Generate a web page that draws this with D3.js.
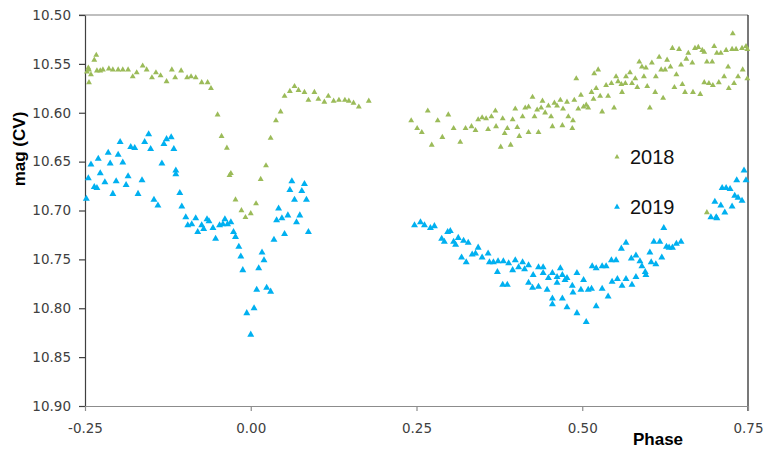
<!DOCTYPE html>
<html>
<head>
<meta charset="utf-8">
<script src="https://cdn.jsdelivr.net/npm/d3@7"></script>
<style>
  body { margin: 0; background: #fff; }
</style>
</head>
<body>
<div id="chart"></div>
<script>
// ---------------- DATA (phase, mag) ----------------
var data2018 = [
  [-0.247,10.558],[-0.245,10.554],[-0.244,10.556],[-0.244,10.569],[-0.241,10.561],[-0.236,10.546],
  [-0.233,10.541],[-0.232,10.557],[-0.227,10.557],[-0.223,10.556],[-0.214,10.555],[-0.208,10.556],
  [-0.200,10.556],[-0.193,10.556],[-0.185,10.556],[-0.178,10.563],[-0.172,10.559],[-0.163,10.552],
  [-0.157,10.556],[-0.149,10.564],[-0.143,10.559],[-0.136,10.562],[-0.127,10.568],[-0.119,10.556],
  [-0.114,10.564],[-0.105,10.557],[-0.096,10.564],[-0.090,10.563],[-0.083,10.564],[-0.074,10.569],
  [-0.065,10.569],[-0.060,10.575],[-0.050,10.602],[-0.044,10.624],[-0.036,10.636],[-0.032,10.664],
  [-0.030,10.662],[-0.023,10.689],[-0.014,10.700],[-0.008,10.707],[0.000,10.703],[0.008,10.693],
  [0.015,10.668],[0.023,10.654],[0.030,10.626],[0.038,10.608],[0.045,10.599],[0.051,10.583],
  [0.059,10.578],[0.066,10.573],[0.072,10.577],[0.081,10.579],[0.087,10.587],[0.096,10.579],
  [0.102,10.586],[0.111,10.589],[0.117,10.583],[0.125,10.588],[0.133,10.587],[0.142,10.587],
  [0.148,10.588],[0.155,10.590],[0.163,10.594],[0.178,10.588],
  [0.242,10.608],[0.251,10.616],[0.258,10.620],[0.267,10.598],[0.273,10.633],[0.282,10.608],
  [0.289,10.625],[0.298,10.602],[0.306,10.616],[0.316,10.630],[0.324,10.616],[0.333,10.614],
  [0.339,10.618],[0.343,10.607],[0.349,10.605],[0.355,10.606],[0.358,10.617],[0.363,10.604],
  [0.369,10.598],[0.370,10.614],[0.377,10.635],[0.380,10.606],[0.383,10.621],[0.387,10.616],
  [0.392,10.633],[0.395,10.607],[0.399,10.596],[0.402,10.615],[0.405,10.624],[0.410,10.604],
  [0.414,10.595],[0.419,10.594],[0.419,10.620],[0.425,10.584],[0.428,10.604],[0.432,10.597],
  [0.434,10.620],[0.438,10.595],[0.440,10.588],[0.444,10.600],[0.449,10.593],[0.453,10.604],
  [0.455,10.614],[0.458,10.590],[0.462,10.593],[0.467,10.587],[0.470,10.613],[0.471,10.596],
  [0.477,10.589],[0.479,10.604],[0.485,10.616],[0.486,10.608],[0.488,10.587],[0.491,10.565],
  [0.494,10.596],[0.498,10.582],[0.502,10.594],[0.506,10.592],[0.509,10.595],[0.514,10.579],
  [0.517,10.586],[0.518,10.560],[0.521,10.575],[0.524,10.556],[0.527,10.583],[0.530,10.599],
  [0.536,10.572],[0.539,10.583],[0.544,10.570],[0.548,10.595],[0.551,10.563],[0.554,10.568],
  [0.559,10.571],[0.560,10.579],[0.565,10.570],[0.566,10.563],[0.572,10.559],[0.575,10.570],
  [0.580,10.565],[0.583,10.574],[0.586,10.548],[0.590,10.553],[0.593,10.563],[0.596,10.554],
  [0.598,10.573],[0.602,10.595],[0.605,10.549],[0.610,10.579],[0.611,10.563],[0.616,10.543],
  [0.619,10.556],[0.622,10.585],[0.625,10.556],[0.628,10.546],[0.633,10.553],[0.636,10.534],
  [0.639,10.574],[0.642,10.561],[0.646,10.535],[0.649,10.551],[0.651,10.571],[0.655,10.579],
  [0.657,10.545],[0.660,10.539],[0.666,10.549],[0.667,10.579],[0.670,10.534],[0.675,10.533],
  [0.678,10.581],[0.681,10.536],[0.684,10.538],[0.684,10.569],[0.688,10.548],[0.691,10.570],
  [0.696,10.548],[0.697,10.572],[0.699,10.532],[0.703,10.539],[0.706,10.569],[0.709,10.539],
  [0.714,10.563],[0.717,10.536],[0.720,10.553],[0.721,10.575],[0.726,10.535],[0.727,10.519],
  [0.729,10.570],[0.732,10.535],[0.735,10.563],[0.741,10.534],[0.742,10.556],[0.747,10.532],
  [0.749,10.535],[0.749,10.565],[0.688,10.702]
];

var data2019 = [
  [-0.248,10.688],[-0.245,10.667],[-0.241,10.653],[-0.236,10.676],[-0.232,10.677],[-0.230,10.647],
  [-0.227,10.662],[-0.220,10.671],[-0.215,10.641],[-0.212,10.652],[-0.208,10.683],[-0.203,10.670],
  [-0.200,10.643],[-0.197,10.630],[-0.193,10.651],[-0.188,10.674],[-0.185,10.665],[-0.181,10.635],
  [-0.175,10.636],[-0.170,10.683],[-0.164,10.669],[-0.160,10.630],[-0.154,10.622],[-0.151,10.637],
  [-0.146,10.689],[-0.140,10.695],[-0.134,10.652],[-0.131,10.632],[-0.127,10.627],[-0.120,10.625],
  [-0.116,10.637],[-0.113,10.659],[-0.113,10.663],[-0.107,10.682],[-0.104,10.696],[-0.098,10.707],
  [-0.095,10.715],[-0.089,10.714],[-0.083,10.708],[-0.080,10.722],[-0.074,10.715],[-0.071,10.719],
  [-0.066,10.709],[-0.063,10.711],[-0.057,10.718],[-0.053,10.729],[-0.047,10.715],[-0.042,10.714],
  [-0.039,10.709],[-0.035,10.714],[-0.030,10.712],[-0.026,10.722],[-0.023,10.727],[-0.018,10.737],
  [-0.015,10.747],[-0.012,10.761],[-0.006,10.805],[0.000,10.827],[0.005,10.800],[0.009,10.781],
  [0.012,10.759],[0.017,10.743],[0.020,10.751],[0.024,10.779],[0.030,10.783],[0.035,10.730],
  [0.039,10.710],[0.042,10.698],[0.047,10.708],[0.051,10.724],[0.056,10.705],[0.059,10.679],
  [0.062,10.670],[0.066,10.689],[0.069,10.712],[0.074,10.705],[0.077,10.680],[0.081,10.673],
  [0.084,10.689],[0.087,10.722],
  [0.247,10.715],[0.256,10.712],[0.262,10.715],[0.271,10.718],[0.277,10.716],[0.288,10.729],
  [0.292,10.732],[0.297,10.722],[0.301,10.721],[0.306,10.732],[0.309,10.735],[0.313,10.728],
  [0.321,10.731],[0.328,10.733],[0.318,10.748],[0.325,10.753],[0.334,10.745],[0.339,10.744],
  [0.343,10.738],[0.349,10.748],[0.358,10.744],[0.360,10.753],[0.366,10.753],[0.372,10.763],
  [0.373,10.752],[0.381,10.752],[0.380,10.776],[0.387,10.776],[0.389,10.754],[0.395,10.761],
  [0.399,10.751],[0.404,10.758],[0.410,10.753],[0.413,10.760],[0.419,10.756],[0.419,10.774],
  [0.426,10.766],[0.425,10.779],[0.434,10.758],[0.434,10.778],[0.441,10.758],[0.441,10.764],
  [0.447,10.781],[0.449,10.769],[0.455,10.764],[0.455,10.790],[0.455,10.796],[0.462,10.768],
  [0.462,10.774],[0.467,10.759],[0.470,10.766],[0.470,10.790],[0.474,10.771],[0.477,10.799],
  [0.477,10.769],[0.485,10.777],[0.486,10.784],[0.492,10.764],[0.492,10.805],[0.498,10.781],
  [0.502,10.771],[0.506,10.814],[0.509,10.781],[0.514,10.780],[0.515,10.757],[0.521,10.759],
  [0.521,10.798],[0.530,10.757],[0.530,10.780],[0.536,10.757],[0.539,10.788],[0.544,10.751],
  [0.545,10.773],[0.551,10.751],[0.553,10.770],[0.559,10.739],[0.560,10.777],[0.566,10.733],
  [0.566,10.770],[0.574,10.749],[0.575,10.776],[0.581,10.746],[0.581,10.768],[0.587,10.752],
  [0.590,10.757],[0.595,10.763],[0.596,10.766],[0.602,10.743],[0.604,10.753],[0.608,10.732],
  [0.611,10.755],[0.617,10.732],[0.620,10.748],[0.623,10.718],[0.627,10.737],[0.631,10.738],
  [0.636,10.738],[0.642,10.734],[0.649,10.732],
  [0.694,10.707],[0.702,10.707],[0.703,10.708],[0.700,10.691],[0.709,10.695],[0.715,10.702],
  [0.711,10.677],[0.717,10.677],[0.723,10.678],[0.726,10.696],[0.730,10.685],[0.735,10.687],
  [0.741,10.690],[0.733,10.669],[0.744,10.659],[0.747,10.669]
];

var xTicks = [-0.25, 0, 0.25, 0.5, 0.75];
var yTicks = [10.50, 10.55, 10.60, 10.65, 10.70, 10.75, 10.80, 10.85, 10.90];
var seriesNames = ["2018", "2019"];
var seriesColors = ["#9BBB59", "#00B0F0"];

// ---------------- SVG ----------------
var width = 766, height = 450;
var plotLeft = 85, plotRight = 748, plotTop = 15, plotBottom = 406;

var svg = d3.select("#chart").append("svg")
    .attr("width", width).attr("height", height);

var x = d3.scaleLinear().domain([-0.25, 0.75]).range([plotLeft, plotRight]);
var y = d3.scaleLinear().domain([10.50, 10.90]).range([plotTop, plotBottom]);

// top frame line + right line
svg.append("line")
    .attr("x1", plotLeft - 6).attr("x2", plotRight)
    .attr("y1", y(10.50)).attr("y2", y(10.50))
    .attr("stroke", "#808080").attr("stroke-width", 1.2);
svg.append("line")
    .attr("x1", x(0.75)).attr("x2", x(0.75))
    .attr("y1", y(10.50)).attr("y2", plotBottom + 5)
    .attr("stroke", "#1e1e1e").attr("stroke-width", 1.2);

// axes
var fmt = function(d) { return d.toFixed(2); };

var yAxis = svg.append("g")
    .attr("transform", "translate(" + plotLeft + ",0)")
    .call(d3.axisLeft(y).tickValues(yTicks).tickFormat(fmt).tickSize(6).tickSizeOuter(0).tickPadding(8));
yAxis.select(".domain").attr("stroke", "#404040").attr("stroke-width", 1.2);
yAxis.selectAll(".tick line").attr("stroke", "#404040").attr("stroke-width", 1.2);
yAxis.selectAll("text")
    .attr("font-family", "DejaVu Sans").attr("font-size", "13.5px").attr("fill", "#404040");

var xAxis = svg.append("g")
    .attr("transform", "translate(0," + plotBottom + ")")
    .call(d3.axisBottom(x).tickValues(xTicks).tickFormat(fmt).tickSize(5).tickSizeOuter(0).tickPadding(12));
xAxis.select(".domain").attr("stroke", "#8c8c8c").attr("stroke-width", 1.2);
xAxis.selectAll(".tick line").attr("stroke", "#8c8c8c").attr("stroke-width", 1.2);
xAxis.selectAll("text")
    .attr("font-family", "DejaVu Sans").attr("font-size", "13.5px").attr("fill", "#404040");

// axis titles
svg.append("text")
    .attr("transform", "translate(25,149) rotate(-90)")
    .attr("text-anchor", "middle")
    .attr("font-family", "Liberation Sans").attr("font-weight", "bold")
    .attr("font-size", "17px").attr("fill", "#000")
    .text("mag (CV)");
svg.append("text")
    .attr("x", 658).attr("y", 445)
    .attr("text-anchor", "middle")
    .attr("font-family", "Liberation Sans").attr("font-weight", "bold")
    .attr("font-size", "17px").attr("fill", "#000")
    .text("Phase");

// ---------------- MARKERS ----------------
var tri18 = d3.symbol().type(d3.symbolTriangle).size(15);
var tri19 = d3.symbol().type(d3.symbolTriangle).size(21);

svg.append("g").selectAll("path").data(data2018).enter()
    .append("path")
    .attr("d", tri18)
    .attr("transform", function(d) { return "translate(" + x(d[0]) + "," + y(d[1]) + ")"; })
    .style("fill", seriesColors[0]);

svg.append("g").selectAll("path").data(data2019).enter()
    .append("path")
    .attr("d", tri19)
    .attr("transform", function(d) { return "translate(" + x(d[0]) + "," + y(d[1]) + ")"; })
    .style("fill", seriesColors[1]);

// ---------------- LEGEND ----------------
var legend = svg.append("g").attr("transform", "translate(617,157)");
seriesNames.forEach(function(name, i) {
    var g = legend.append("g").attr("transform", "translate(0," + (i * 50) + ")");
    g.append("path")
        .attr("d", d3.symbol().type(d3.symbolTriangle).size(i === 0 ? 11 : 15))
        .style("fill", seriesColors[i]);
    g.append("text")
        .attr("x", 13).attr("y", 6.5)
        .attr("font-family", "Liberation Sans").attr("font-size", "20px").attr("fill", "#111")
        .text(name);
});
</script>
</body>
</html>
